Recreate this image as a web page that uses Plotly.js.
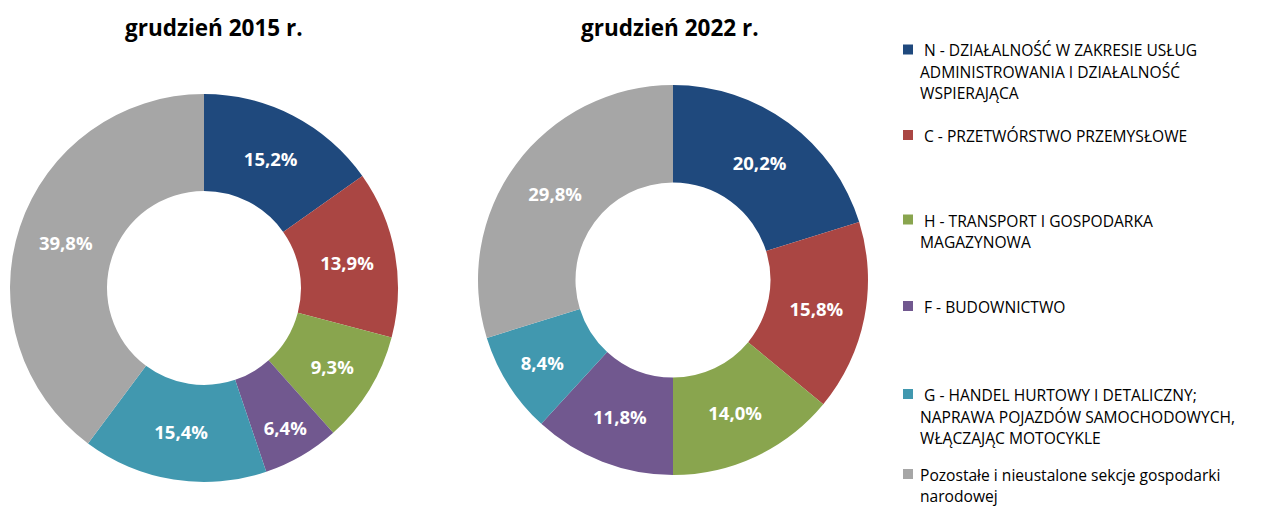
<!DOCTYPE html>
<html>
<head>
<meta charset="utf-8">
<script src="https://cdn.plot.ly/plotly-3.0.1.min.js"></script>
<style>html,body{margin:0;padding:0;background:#fff;}#chart{width:1261px;height:506px;}</style>
</head>
<body>
<div id="chart"></div>
<script>
const categories = [
  "N - DZIAŁALNOŚĆ W ZAKRESIE USŁUG<br>ADMINISTROWANIA I DZIAŁALNOŚĆ<br>WSPIERAJĄCA",
  "C - PRZETWÓRSTWO PRZEMYSŁOWE",
  "H - TRANSPORT I GOSPODARKA<br>MAGAZYNOWA",
  "F - BUDOWNICTWO",
  "G - HANDEL HURTOWY I DETALICZNY;<br>NAPRAWA POJAZDÓW SAMOCHODOWYCH,<br>WŁĄCZAJĄC MOTOCYKLE",
  "Pozostałe i nieustalone sekcje gospodarki<br>narodowej"
];
const values2015 = [15.2, 13.9, 9.3, 6.4, 15.4, 39.8];
const values2022 = [20.2, 15.8, 14.0, 11.8, 8.4, 29.8];
const titles = ["grudzień 2015 r.", "grudzień 2022 r."];
const colors = ["#1F497D", "#AA4643", "#89A54E", "#71588F", "#4198AF", "#A6A6A6"];

const W = 1261, H = 506;
const FONT = "Open Sans, Lato, sans-serif";

function px2x(p){ return p / W; }
function py2y(p){ return 1 - p / H; }

function pie(values, x0, x1, y0, y1){
  return {
    type: "pie",
    values: values,
    labels: categories,
    sort: false,
    direction: "clockwise",
    rotation: 0,
    hole: 0.5,
    marker: {colors: colors, line: {width: 0}},
    textposition: "inside",
    insidetextorientation: "horizontal",
    texttemplate: "%{value:.1f}%",
    textfont: {family: FONT, size: 18.5, color: "#ffffff", weight: "bold"},
    hoverinfo: "label+value",
    showlegend: false,
    domain: {x: [px2x(x0), px2x(x1)], y: [py2y(y1), py2y(y0)]}
  };
}

const data = [
  pie(values2015, 10, 398, 94, 482),
  pie(values2022, 478, 868, 85, 475)
];

const annotations = [
  {text: titles[0], x: px2x(214), y: py2y(27), xref: "paper", yref: "paper", showarrow: false,
   xanchor: "center", yanchor: "middle", font: {family: FONT, size: 22.5, color: "#000", weight: "bold"}},
  {text: titles[1], x: px2x(670), y: py2y(27), xref: "paper", yref: "paper", showarrow: false,
   xanchor: "center", yanchor: "middle", font: {family: FONT, size: 22.5, color: "#000", weight: "bold"}}
];
const shapes = [];
const legendTops = [49.5, 135, 219.5, 306, 394, 474];
const lineGaps = [21.5, 21.5, 21.5, 21.5, 21.5, 20.5];
categories.forEach((c, i) => {
  const yc = legendTops[i];
  shapes.push({type: "rect", xref: "paper", yref: "paper",
    x0: px2x(903), x1: px2x(913), y0: py2y(yc + 5), y1: py2y(yc - 5),
    fillcolor: colors[i], line: {width: 0}});
  const lines = c.split("<br>");
  lines.forEach((ln, j) => {
    const x = (j === 0 && i < 5) ? 922 : 918;
    annotations.push({text: ln, x: px2x(x), y: py2y(yc + j * lineGaps[i] + 1), xref: "paper", yref: "paper",
      showarrow: false, xanchor: "left", yanchor: "middle", align: "left",
      font: {family: FONT, size: 15.6, color: "#000"}});
  });
});

const layout = {
  width: W, height: H,
  margin: {l: 0, r: 0, t: 0, b: 0},
  paper_bgcolor: "#fff",
  separators: ", ",
  showlegend: false,
  annotations: annotations,
  shapes: shapes
};

Plotly.newPlot("chart", data, layout, {displayModeBar: false, staticPlot: true});
</script>
</body>
</html>
